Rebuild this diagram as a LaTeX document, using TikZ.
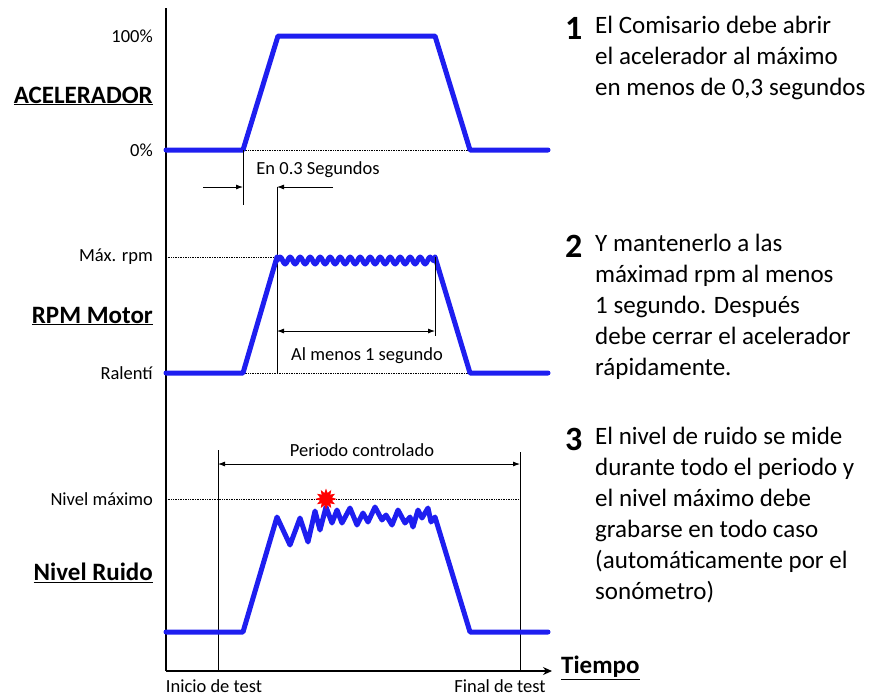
\documentclass[tikz,border=0pt]{standalone}
\usepackage{fontspec}
\setmainfont{Carlito}
\usetikzlibrary{arrows.meta,decorations.pathmorphing,shapes.geometric,positioning}
\definecolor{traceblue}{RGB}{30,30,240}

\begin{document}
\begin{tikzpicture}[x=1pt,y=-1pt]
\tikzstyle{trace} = [draw=traceblue, line width=5pt, line join=round, line cap=round];
\tikzstyle{axis} = [draw, line width=1.2pt];
\tikzstyle{guide} = [draw, densely dotted, line width=0.7pt];
\tikzstyle{mark_line} = [draw, line width=0.8pt];
\tikzstyle{dim} = [draw, line width=0.8pt, {Latex[length=7pt,width=5pt]}-{Latex[length=7pt,width=5pt]}];
\tikzstyle{lbl} = [inner sep=0pt, font=\fontsize{18.5}{20}\selectfont];
\tikzstyle{title} = [inner sep=0pt, font=\bfseries\fontsize{25}{28}\selectfont];
\tikzstyle{step_text} = [inner sep=0pt, anchor=north west, align=left, font=\fontsize{25}{31}\selectfont];
\tikzstyle{step_num} = [inner sep=0pt, anchor=base west, font=\bfseries\fontsize{34}{31}\selectfont];
\useasboundingbox (0,0) rectangle (869,697);

% axes
\coordinate (ytop) at (166,8);
\coordinate (orig) at (166,671);
\coordinate (xend) at (552,671);
\path[axis] (ytop) -- (orig);
\path[axis, -{Stealth[length=9pt,width=8pt]}] (orig) -- (xend);
\node[title, anchor=west] (tiempo) at (561,668) {\underline{Tiempo}};

% row 1: acelerador
\node[lbl, anchor=east] (acc_max) at (153,36) {100\%};
\node[title, anchor=east] (acc) at (153,96) {\underline{ACELERADOR}};
\node[lbl, anchor=east] (acc_min) at (153,150) {0\%};
\coordinate (acc_up) at (243,150);
\coordinate (acc_down) at (470,150);
\path[guide] (acc_up) -- (acc_down);
\path[trace] (166,150) -- (acc_up) -- (278,36) -- (435,36) -- (acc_down) -- (548,150);

% 0.3 s
\coordinate (t0_low) at (243,205);
\coordinate (t0_in) at (203,187);
\coordinate (t1_in) at (333,187);
\coordinate (t1_top) at (277,187);
\coordinate (t1_low) at (277,373);
\path[mark_line] (acc_up) -- (t0_low);
\path[mark_line] (t1_top) -- (t1_low);
\path[draw, line width=0.8pt, -{Latex[length=7pt,width=5pt]}] (t0_in) -- (243,187);
\path[draw, line width=0.8pt, -{Latex[length=7pt,width=5pt]}] (t1_in) -- (t1_top);
\node[lbl] (t_lbl) at (318,170) {En 0.3 Segundos};

% row 2: rpm
\node[lbl, anchor=east] (rpm_max) at (153,257) {Máx. rpm};
\node[title, anchor=east] (rpm) at (153,316) {\underline{RPM Motor}};
\node[lbl, anchor=east] (rpm_min) at (153,373) {Ralentí};
\coordinate (rpm_up) at (243,373);
\coordinate (rpm_top) at (277,257);
\coordinate (rpm_end) at (435,257);
\coordinate (rpm_down) at (470,373);
\path[guide] (166,257) -- (rpm_top);
\path[guide] (rpm_up) -- (rpm_down);
\path[trace] (166,373) -- (rpm_up) -- (rpm_top);
\path[trace, decorate, decoration={snake, segment length=10pt, amplitude=3.5pt}] (277,260.5) -- (435,260.5);
\path[trace] (rpm_end) -- (rpm_down) -- (548,373);
\path[mark_line] (rpm_end) -- (435,336);
\path[dim] (277,331) -- (435,331);
\node[lbl] (rpm_lbl) at (367,356) {Al menos 1 segundo};

% row 3: ruido
\node[lbl, anchor=east] (noise_max) at (153,499) {Nivel máximo};
\node[title, anchor=east] (noise) at (153,573) {\underline{Nivel Ruido}};
\coordinate (test_start) at (218,450);
\coordinate (test_end) at (520,452);
\path[guide] (166,499) -- (520,499);
\path[mark_line] (test_start) -- (218,671);
\path[mark_line] (test_end) -- (520,671);
\path[dim] (218,464) -- (520,464);
\node[lbl] (period) at (362,450) {Periodo controlado};
\path[trace] (166,632) -- (243,632) -- (277,517) -- (290,545) -- (300,518) -- (308,542)
  -- (315,511) -- (320,530) -- (326,507) -- (332,523) -- (337,510) -- (342,523)
  -- (350,508) -- (357,525) -- (363,513) -- (368,522) -- (375,507) -- (382,520)
  -- (386,515) -- (392,525) -- (398,510) -- (405,523) -- (410,517) -- (413,527)
  -- (418,510) -- (422,518) -- (428,508) -- (431,522) -- (435,517) -- (470,632) -- (548,632);
\node[star, star points=12, star point ratio=1.7, fill=red, minimum size=21pt, inner sep=0pt] (peak) at (326,499) {};
\node[lbl, anchor=base] (start_lbl) at (214,692) {Inicio de test};
\node[lbl, anchor=base] (end_lbl) at (500,692) {Final de test};

% steps
\node[step_num] (n1) at (565,39) {1};
\node[step_text] (s1) at (595,16) {El Comisario debe abrir\\el acelerador al máximo\\en menos de 0,3 segundos};
\node[step_num] (n2) at (565,257) {2};
\node[step_text] (s2) at (595,234) {Y mantenerlo a las\\máximad rpm al menos\\1 segundo. Después\\debe cerrar el acelerador\\rápidamente.};
\node[step_num] (n3) at (565,450) {3};
\node[step_text] (s3) at (595,427) {El nivel de ruido se mide\\durante todo el periodo y\\el nivel máximo debe\\grabarse en todo caso\\(automáticamente por el\\sonómetro)};
\end{tikzpicture}
\end{document}
